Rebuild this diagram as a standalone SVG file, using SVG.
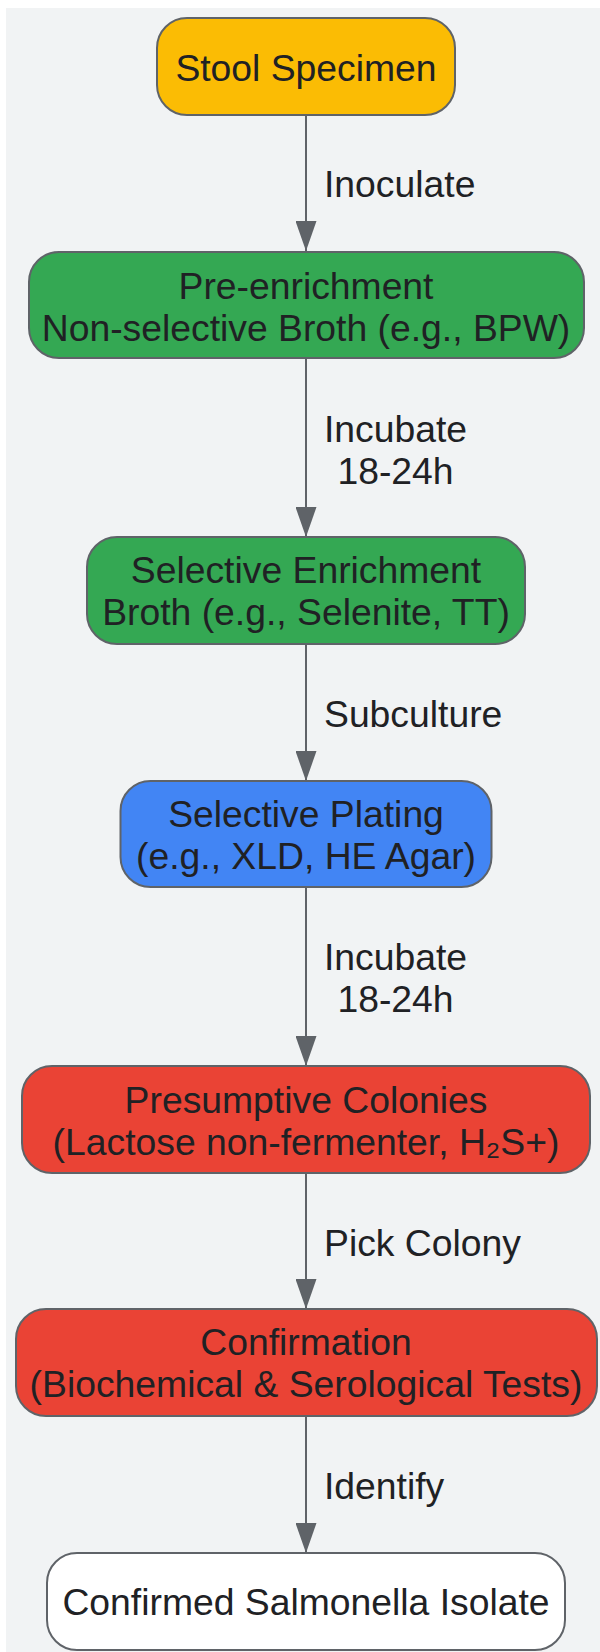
<svg xmlns="http://www.w3.org/2000/svg" width="600" height="1652" viewBox="0 0 600 1652">
<style>
.node rect{stroke:#5f6368;stroke-width:2}
.t{font-family:"Liberation Sans",Arial,sans-serif;font-size:37.3px;fill:#202124;text-anchor:middle}
.lbl{font-family:"Liberation Sans",Arial,sans-serif;font-size:37.3px;fill:#202124}
.edge{stroke:#5f6368;stroke-width:2;fill:none;marker-end:url(#arr)}
</style>
<defs>
<marker id="arr" viewBox="0 0 30 21" refX="30" refY="10.5" markerWidth="30" markerHeight="21" markerUnits="userSpaceOnUse" orient="auto">
<path d="M0,0 L30,10.5 L0,21 Z" fill="#5f6368"/>
</marker>
</defs>
<rect x="6" y="8" width="600" height="1650" fill="#f1f3f4"/>
<g id="connectors">
<line class="edge" x1="306" y1="115" x2="306" y2="251"/>
<line class="edge" x1="306" y1="358" x2="306" y2="537"/>
<line class="edge" x1="306" y1="644" x2="306" y2="781"/>
<line class="edge" x1="306" y1="887" x2="306" y2="1066"/>
<line class="edge" x1="306" y1="1173" x2="306" y2="1309"/>
<line class="edge" x1="306" y1="1416" x2="306" y2="1553"/>
<text class="lbl" x="324" y="197">Inoculate</text>
<text class="lbl" x="395.5" y="441.7" text-anchor="middle">Incubate</text>
<text class="lbl" x="395.5" y="484.3" text-anchor="middle">18-24h</text>
<text class="lbl" x="324" y="726.7">Subculture</text>
<text class="lbl" x="395.5" y="970" text-anchor="middle">Incubate</text>
<text class="lbl" x="395.5" y="1011.7" text-anchor="middle">18-24h</text>
<text class="lbl" x="324" y="1256">Pick Colony</text>
<text class="lbl" x="324" y="1499">Identify</text>
</g>
<g id="stool" class="node">
<rect x="157" y="18" width="298" height="97" rx="30" fill="#fbbc04"/>
<text class="t" x="306" y="81">Stool Specimen</text>
</g>
<g id="preenrich" class="node">
<rect x="29" y="252" width="555" height="106" rx="30" fill="#34a853"/>
<text class="t" x="306" y="299">Pre-enrichment</text>
<text class="t" x="306" y="341">Non-selective Broth (e.g., BPW)</text>
</g>
<g id="selenrich" class="node">
<rect x="87" y="537" width="438" height="107" rx="30" fill="#34a853"/>
<text class="t" x="306" y="583">Selective Enrichment</text>
<text class="t" x="306" y="625">Broth (e.g., Selenite, TT)</text>
</g>
<g id="plating" class="node">
<rect x="120.5" y="781" width="371" height="106" rx="30" fill="#4285f4"/>
<text class="t" x="306" y="827">Selective Plating</text>
<text class="t" x="306" y="868.5">(e.g., XLD, HE Agar)</text>
</g>
<g id="presumptive" class="node">
<rect x="22" y="1066" width="568" height="107" rx="30" fill="#ea4335"/>
<text class="t" x="306" y="1113">Presumptive Colonies</text>
<text class="t" x="306" y="1155">(Lactose non-fermenter, H₂S+)</text>
</g>
<g id="confirmation" class="node">
<rect x="16" y="1309" width="581" height="107" rx="30" fill="#ea4335"/>
<text class="t" x="306" y="1355">Confirmation</text>
<text class="t" x="306" y="1397">(Biochemical &amp; Serological Tests)</text>
</g>
<g id="isolate" class="node">
<rect x="47" y="1553" width="518" height="97" rx="30" fill="#ffffff"/>
<text class="t" x="306" y="1615">Confirmed Salmonella Isolate</text>
</g>
</svg>
